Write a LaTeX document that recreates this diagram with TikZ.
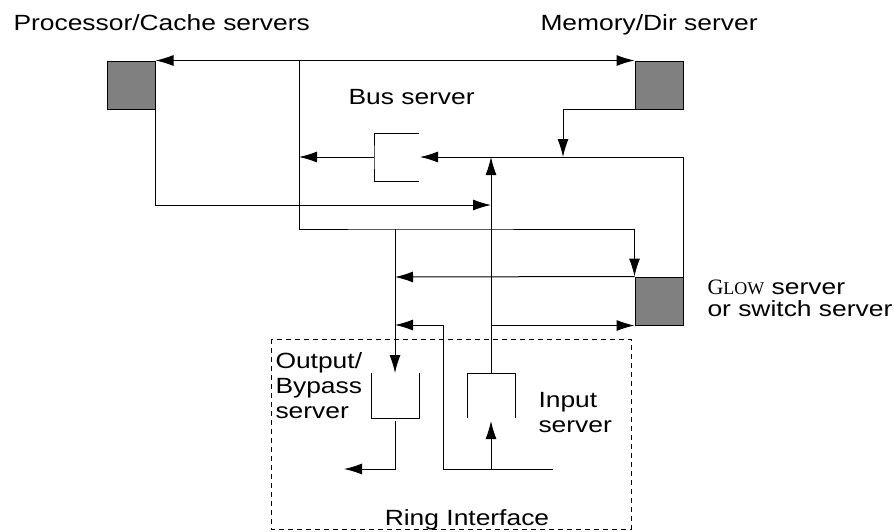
\documentclass[tikz,border=0pt]{standalone}
\usepackage{fontspec}
\setmainfont{Liberation Sans}[FakeStretch=1.2]
\newfontfamily\glowfont{Liberation Serif}
\usetikzlibrary{arrows.meta}
\begin{document}
\begin{tikzpicture}[x=0.5pt,y=-0.5pt,line width=0.5pt,>={Latex[length=9pt,width=5.5pt]},font=\fontsize{11}{12.5}\selectfont]
	\tikzstyle{unit}=[draw,fill=gray,minimum size=24pt,inner sep=0pt]
	\tikzstyle{txt}=[inner sep=0pt,align=left,anchor=base west]
	\useasboundingbox (0,0) rectangle (894,531);

	\node[unit](pc) at (131,85){};
	\node[unit](mem) at (659,85){};
	\node[unit](glow) at (659,301){};

	% junctions
	\coordinate (tap) at (299,61);
	\coordinate (tee) at (395,229);
	\coordinate (busl) at (299,157);
	\coordinate (busin) at (420,157);
	\coordinate (busout) at (374,157);
	\coordinate (bt) at (419,133);
	\coordinate (bb) at (419,181);
	\coordinate (mid) at (563,157);
	\coordinate (up) at (491,157);
	\coordinate (jn) at (491,205);
	\coordinate (glowl) at (395,277);
	\coordinate (loopl) at (395,325);
	\coordinate (outtop) at (395,373);
	\coordinate (outbot) at (395,421);
	\coordinate (outexit) at (344,469);
	\coordinate (ringl) at (443,469);
	\coordinate (ringr) at (553,469);
	\coordinate (intop) at (491,373);
	\coordinate (inbot) at (491,421);

	\draw[<->] (pc.north east) -- (mem.north west);
	\draw[->] (tap) |- (tee) -| (glow.north west);
	\draw[->] (tee) -- (outtop);
	\draw[->] (pc.south east) |- (jn);
	\draw[->] (mem.south west) -| (mid);
	\draw[->] (glow.north east) |- (busin);
	\draw (bt) -| (busout) |- (bb);
	\draw[->] (busout) -- (busl);
	\draw[->] (intop) -- (up);
	\draw[->] (glow.north west) -- (glowl);
	\draw[->] (intop |- glow.south west) -- (glow.south west);
	\draw[->] (ringl) |- (loopl);
	\draw (ringl) -- (ringr);
	\draw[->] (inbot |- ringl) -- (inbot);
	\draw[->] (outbot) |- (outexit);

	% output and input queues
	\draw (371,373) |- (419,418) -- (419,373);
	\draw (467,418) |- (515,373) -- (515,418);

	\draw[dash pattern=on 2.5pt off 2pt] (271,339) rectangle (631,529);

	\node[txt](pctxt) at (13,30){Processor/Cache servers};
	\node[txt](memtxt) at (540,30){Memory/Dir server};
	\node[txt](bustxt) at (348,104){Bus server};
	\node[txt,font=\fontsize{11}{11}\selectfont](glowtxt) at (707,316){{\glowfont G\fontsize{9}{10}\selectfont LOW} server\\or switch server};
	\node[txt](outtxt) at (275,418){Output/\\Bypass\\server};
	\node[txt](intxt) at (538,432){Input\\server};
	\node[txt,anchor=base](ringtxt) at (467,525){Ring Interface};
\end{tikzpicture}
\end{document}
